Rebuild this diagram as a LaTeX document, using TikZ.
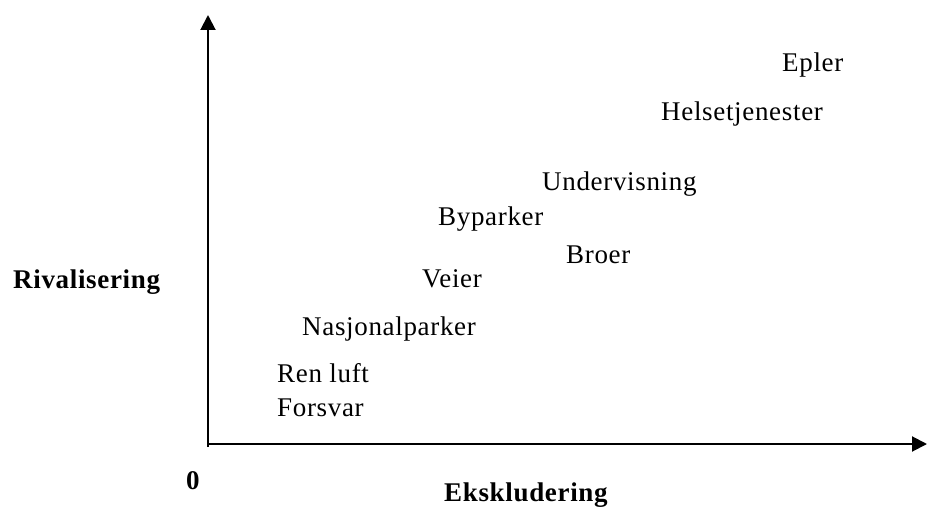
\documentclass[tikz,border=0pt]{standalone}
\usepackage{fontspec}
\setmainfont{Liberation Serif}[LetterSpace=2.5]
\usetikzlibrary{arrows.meta, positioning}

\begin{document}
\begin{tikzpicture} [x=1pt, y=-1pt,
            every node/.style = {inner sep=0pt, anchor=base west,
                font=\fontsize{27}{32}\selectfont},
            good/.style = {},
            axislabel/.style = {font=\fontsize{27}{32}\selectfont\bfseries},
            axis/.style = {line width=2pt, -{Triangle[length=15pt, width=15pt]}}]

        \useasboundingbox (0,0) rectangle (927,511);

        % Axes
        \coordinate (origin) at (208,444);
        \coordinate (ybase) at (208,447);
        \coordinate (ytip) at (208,15);
        \coordinate (xtip) at (927,444);

        \draw [axis] (ybase) -- (ytip);
        \draw [axis] (origin) -- (xtip);

        % Axis labels
        \node (rival) [axislabel] at (13,288) {Rivalisering};
        \node (zero) [axislabel] at (186,489) {0};
        \node (ekskl) [axislabel] at (444,501) {Ekskludering};

        % Goods
        \node (epler) [good] at (782,72) {Epler};
        \node (helse) [good] at (661,121) {Helsetjenester};
        \node (underv) [good] at (542,190) {Undervisning};
        \node (byparker) [good] at (438,225) {Byparker};
        \node (broer) [good] at (566,263) {Broer};
        \node (veier) [good] at (422,287) {Veier};
        \node (nasjpark) [good] at (302,335) {Nasjonalparker};
        \node (renluft) [good] at (277,382) {Ren luft};
        \node (forsvar) [good] at (277,416) {Forsvar};
\end{tikzpicture}
\end{document}
